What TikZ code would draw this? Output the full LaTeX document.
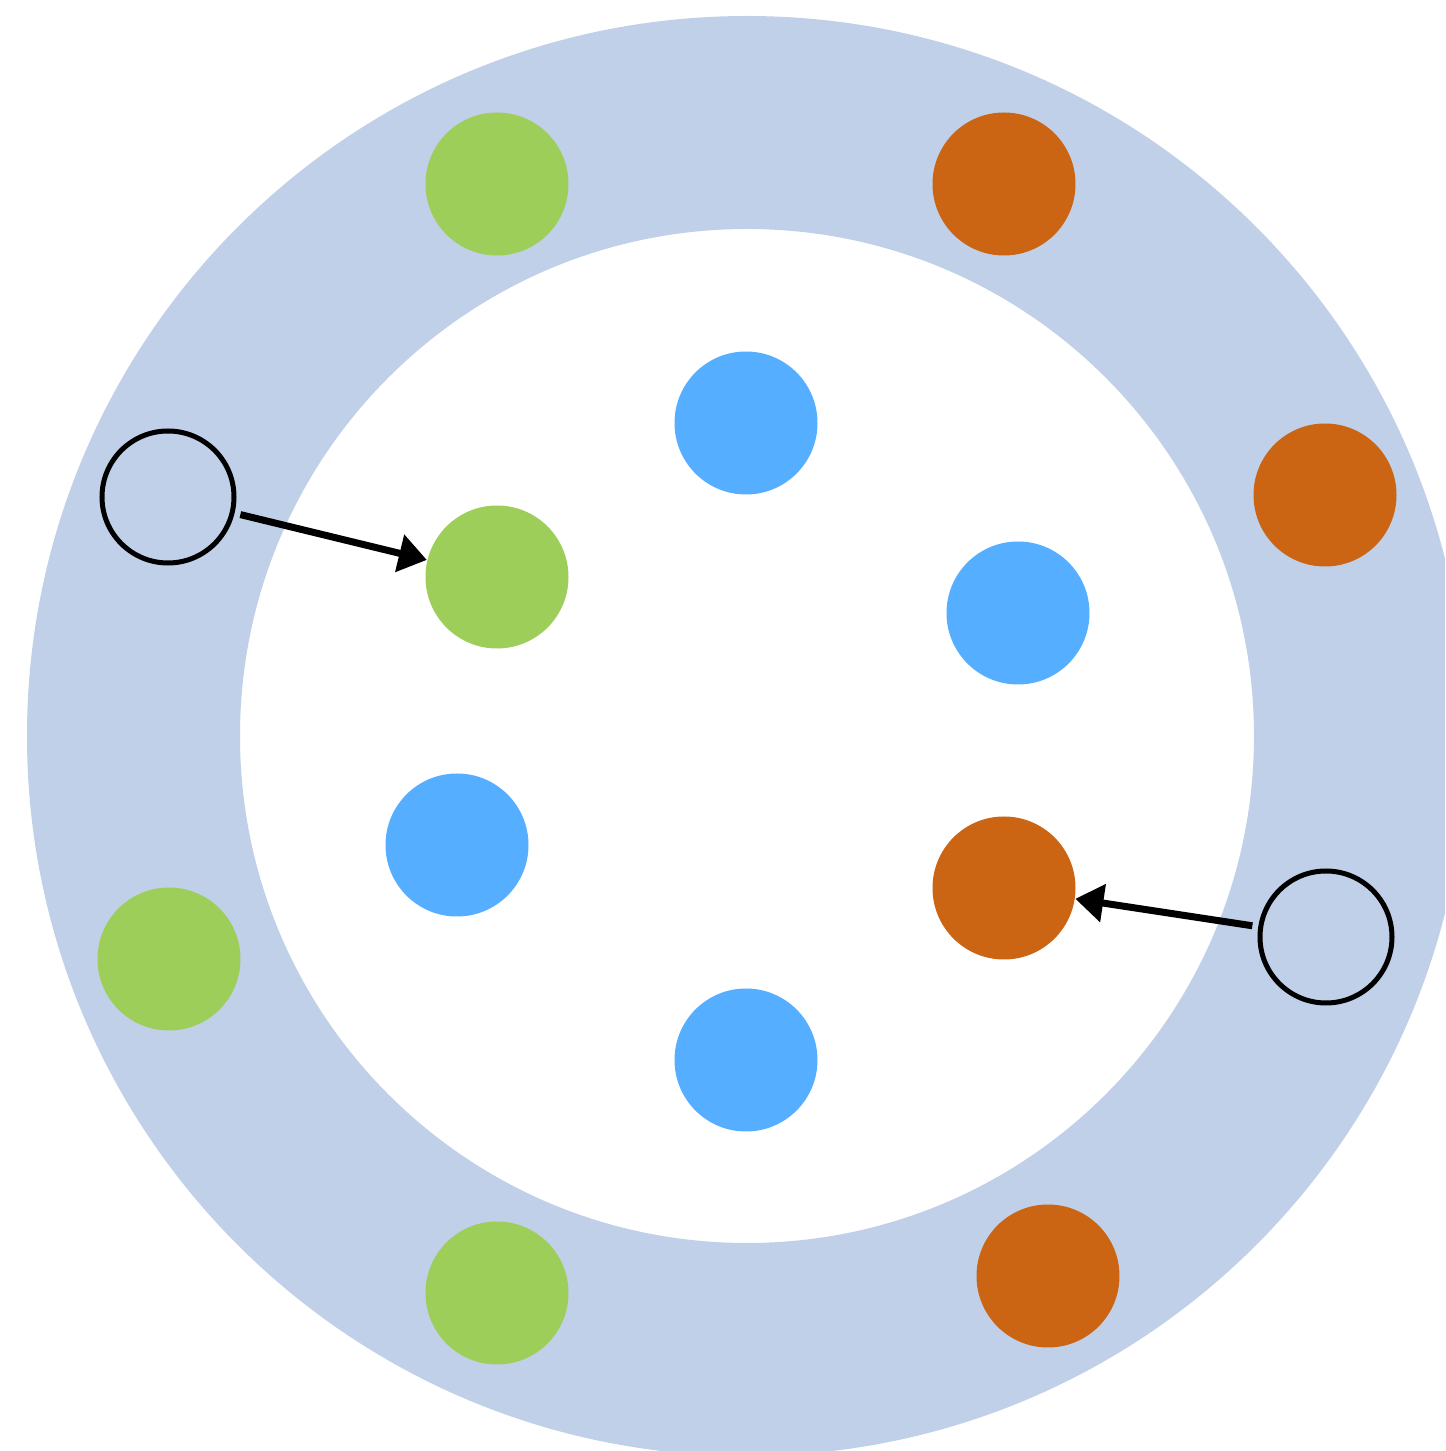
\documentclass[tikz,border=0pt]{standalone}
\usepackage{tikz}
\usetikzlibrary{arrows.meta}
\definecolor{ringblue}{RGB}{193,208,233}
\definecolor{dotgreen}{RGB}{158,206,90}
\definecolor{dotorange}{RGB}{203,100,19}
\definecolor{dotblue}{RGB}{85,174,255}
\begin{document}
\begin{tikzpicture}
  [every node/.style={circle,inner sep=0pt,minimum size=1.43cm},
   green/.style={fill=dotgreen},
   orange/.style={fill=dotorange},
   blue/.style={fill=dotblue},
   hollow/.style={draw=black,line width=0.05cm,minimum size=1.32cm},
   link/.style={line width=0.07cm,-{Triangle[length=0.28cm,width=0.37cm]}}]
  \useasboundingbox (0,0) rectangle (14.45,14.51);
  \clip (0,0) rectangle (14.45,14.51);
  \fill[ringblue,even odd rule] (7.47,7.15) circle (7.20) (7.47,7.15) circle (5.07);
  \node[green] (g1) at (4.97,12.67) {};
  \node[green] (g2) at (4.97,8.74) {};
  \node[green] (g3) at (1.69,4.92) {};
  \node[green] (g4) at (4.97,1.58) {};
  \node[orange] (o1) at (10.04,12.67) {};
  \node[orange] (o2) at (13.25,9.56) {};
  \node[orange] (o3) at (10.04,5.63) {};
  \node[orange] (o4) at (10.48,1.75) {};
  \node[blue] (b1) at (7.46,10.28) {};
  \node[blue] (b2) at (10.18,8.38) {};
  \node[blue] (b3) at (4.57,6.06) {};
  \node[blue] (b4) at (7.46,3.91) {};
  \node[hollow] (h1) at (1.68,9.54) {};
  \node[hollow] (h2) at (13.26,5.14) {};
  \foreach \from/\to in {h1/g2,h2/o3}
    \draw[link,shorten <=0.06cm] (\from) -- (\to);
\end{tikzpicture}
\end{document}
